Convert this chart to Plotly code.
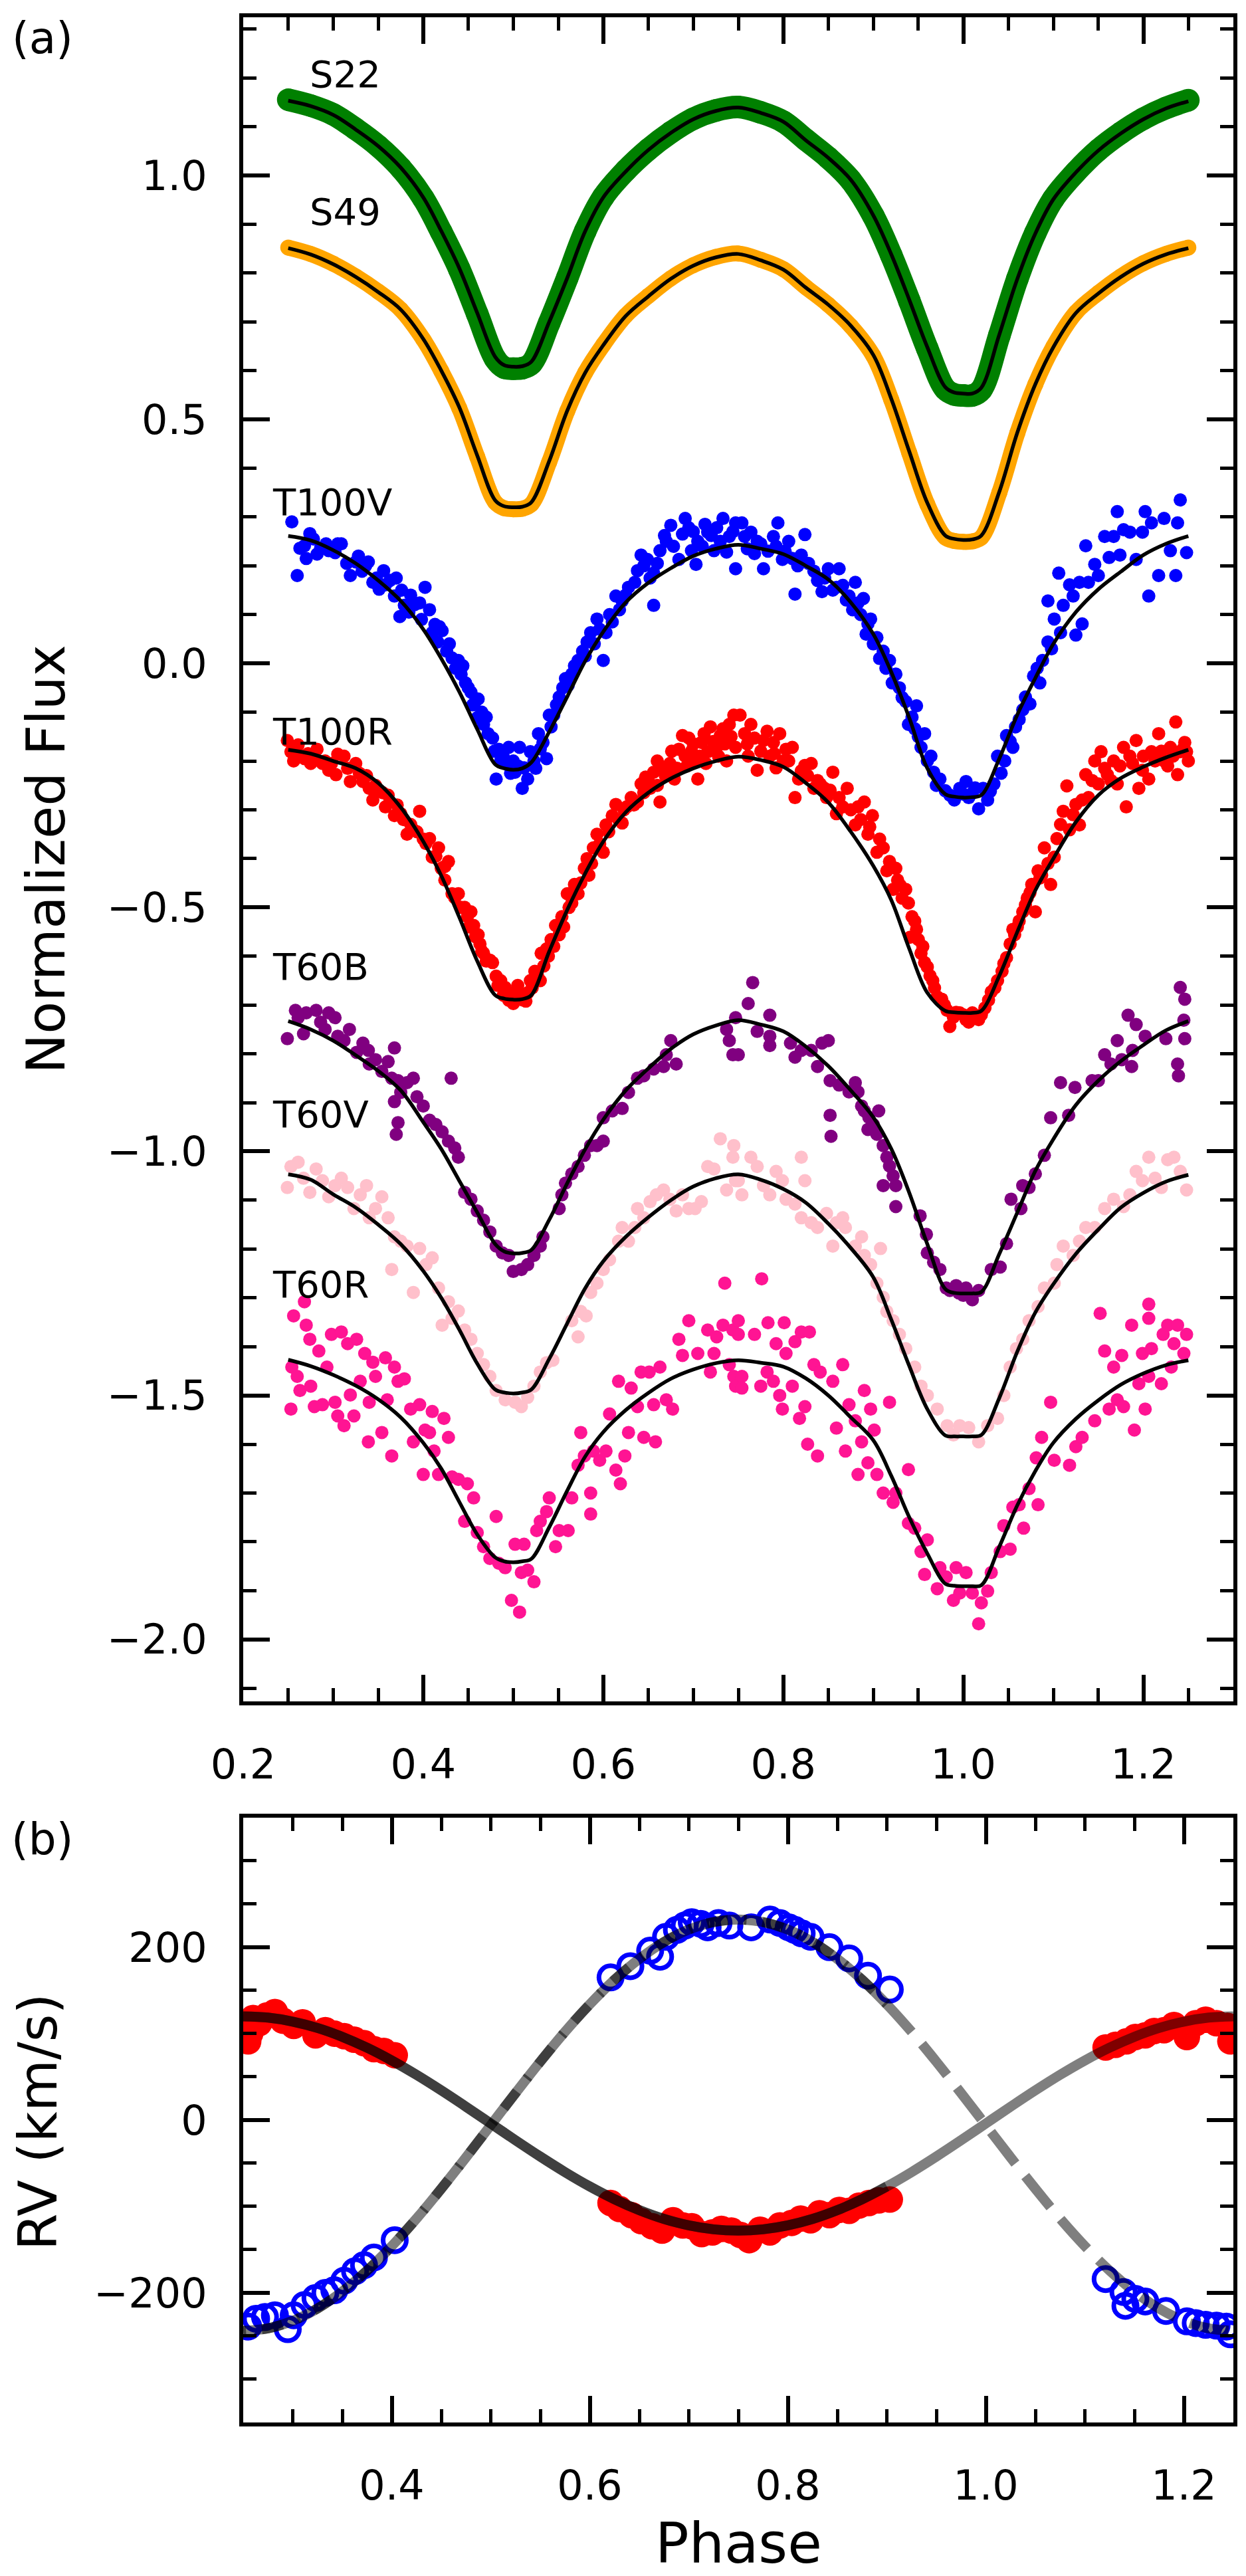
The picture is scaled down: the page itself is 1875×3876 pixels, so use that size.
import plotly.graph_objects as go
from plotly.subplots import make_subplots

FONT = "DejaVu Sans"

# ---- panel (a): light curves ----
MODEL_PHASE = [0.25, 0.275, 0.30, 0.325, 0.35, 0.375, 0.40, 0.42, 0.44, 0.46, 0.48, 0.49, 0.50,
               0.51, 0.52, 0.54, 0.56, 0.58, 0.60, 0.625, 0.65, 0.675, 0.70, 0.725, 0.75,
               0.775, 0.80, 0.825, 0.85, 0.875, 0.90, 0.92, 0.94, 0.96, 0.98, 0.99, 1.00,
               1.01, 1.02, 1.04, 1.06, 1.08, 1.10, 1.125, 1.15, 1.175, 1.20, 1.225, 1.25]

S22_FLUX = [1.155, 1.143, 1.125, 1.095, 1.060, 1.015, 0.953, 0.884, 0.808, 0.716, 0.624, 0.606, 0.604,
            0.605, 0.614, 0.698, 0.790, 0.886, 0.956, 1.010, 1.053, 1.088, 1.116, 1.133, 1.140,
            1.129, 1.110, 1.073, 1.036, 0.990, 0.917, 0.836, 0.743, 0.645, 0.562, 0.551, 0.549,
            0.549, 0.561, 0.672, 0.788, 0.882, 0.952, 1.007, 1.052, 1.087, 1.116, 1.138, 1.154]
S22_MODEL = [1.153, 1.142, 1.124, 1.094, 1.060, 1.016, 0.955, 0.886, 0.810, 0.718, 0.628, 0.611, 0.608,
             0.609, 0.618, 0.700, 0.790, 0.886, 0.955, 1.008, 1.052, 1.087, 1.115, 1.132, 1.139,
             1.128, 1.110, 1.072, 1.036, 0.991, 0.918, 0.838, 0.745, 0.648, 0.566, 0.555, 0.553,
             0.553, 0.565, 0.674, 0.788, 0.881, 0.951, 1.006, 1.051, 1.086, 1.115, 1.137, 1.152]

S49_FLUX = [0.852, 0.839, 0.819, 0.793, 0.762, 0.725, 0.664, 0.599, 0.523, 0.423, 0.330, 0.318, 0.316,
            0.317, 0.326, 0.413, 0.517, 0.596, 0.653, 0.713, 0.753, 0.789, 0.816, 0.833, 0.840,
            0.827, 0.808, 0.771, 0.735, 0.691, 0.630, 0.540, 0.431, 0.326, 0.258, 0.251, 0.249,
            0.250, 0.258, 0.350, 0.472, 0.572, 0.649, 0.719, 0.759, 0.793, 0.820, 0.839, 0.852]
S49_MODEL = [0.851, 0.838, 0.818, 0.792, 0.761, 0.725, 0.665, 0.600, 0.525, 0.426, 0.334, 0.322, 0.320,
             0.321, 0.330, 0.415, 0.518, 0.596, 0.652, 0.712, 0.752, 0.788, 0.815, 0.832, 0.839,
             0.826, 0.807, 0.770, 0.735, 0.692, 0.632, 0.542, 0.434, 0.329, 0.262, 0.255, 0.253,
             0.254, 0.262, 0.352, 0.473, 0.572, 0.648, 0.718, 0.758, 0.792, 0.819, 0.838, 0.851]

T100V_MODEL = [0.261, 0.252, 0.232, 0.205, 0.170, 0.128, 0.070, 0.010, -0.058, -0.135, -0.207, -0.215, -0.218,
               -0.215, -0.203, -0.140, -0.068, 0.005, 0.065, 0.125, 0.165, 0.195, 0.220, 0.235, 0.243,
               0.235, 0.224, 0.200, 0.172, 0.125, 0.060, -0.018, -0.112, -0.215, -0.268, -0.273, -0.275,
               -0.274, -0.270, -0.195, -0.105, -0.030, 0.040, 0.105, 0.152, 0.188, 0.222, 0.245, 0.261]
T100R_MODEL = [-0.177, -0.185, -0.200, -0.215, -0.245, -0.295, -0.365, -0.435, -0.520, -0.610, -0.680, -0.687, -0.689,
               -0.688, -0.680, -0.590, -0.505, -0.430, -0.365, -0.305, -0.265, -0.236, -0.215, -0.200, -0.191,
               -0.198, -0.212, -0.245, -0.285, -0.345, -0.415, -0.485, -0.585, -0.675, -0.712, -0.715, -0.716,
               -0.716, -0.712, -0.640, -0.550, -0.465, -0.400, -0.325, -0.270, -0.235, -0.212, -0.193, -0.177]
T60B_MODEL = [-0.733, -0.750, -0.773, -0.803, -0.835, -0.875, -0.940, -0.995, -1.060, -1.125, -1.190, -1.205, -1.209,
              -1.208, -1.202, -1.140, -1.065, -0.995, -0.935, -0.875, -0.830, -0.790, -0.760, -0.742, -0.731,
              -0.740, -0.754, -0.785, -0.825, -0.875, -0.930, -0.995, -1.085, -1.190, -1.282, -1.290, -1.291,
              -1.291, -1.288, -1.210, -1.125, -1.040, -0.975, -0.905, -0.855, -0.815, -0.782, -0.752, -0.733]
T60V_MODEL = [-1.047, -1.058, -1.088, -1.115, -1.150, -1.190, -1.245, -1.300, -1.365, -1.435, -1.488, -1.494, -1.496,
              -1.494, -1.488, -1.425, -1.352, -1.280, -1.225, -1.175, -1.135, -1.100, -1.072, -1.055, -1.047,
              -1.058, -1.077, -1.105, -1.148, -1.198, -1.258, -1.345, -1.440, -1.528, -1.582, -1.584, -1.584,
              -1.584, -1.581, -1.505, -1.410, -1.330, -1.272, -1.210, -1.160, -1.115, -1.085, -1.062, -1.048]
T60R_MODEL = [-1.427, -1.440, -1.458, -1.480, -1.508, -1.545, -1.597, -1.650, -1.718, -1.785, -1.832, -1.840, -1.842,
              -1.840, -1.835, -1.770, -1.695, -1.625, -1.575, -1.530, -1.495, -1.466, -1.447, -1.434, -1.428,
              -1.433, -1.441, -1.465, -1.500, -1.545, -1.592, -1.665, -1.750, -1.824, -1.886, -1.890, -1.891,
              -1.891, -1.889, -1.810, -1.725, -1.655, -1.597, -1.548, -1.510, -1.478, -1.455, -1.438, -1.428]

# observed points, (phase, flux)
T100V_POINTS = [
    (.254, .290), (.260, .180), (.263, .236), (.268, .241), (.274, .266), (.282, .224), (.286, .236), (.295, .231),
    (.302, .227), (.309, .245), (.319, .180), (.325, .208), (.332, .189), (.339, .208), (.344, .166), (.351, .152),
    (.358, .161), (.363, .170), (.368, .138), (.374, .096), (.379, .119), (.384, .105), (.396, .124), (.402, .156),
    (.407, .110), (.410, .063), (.416, .044), (.421, .067), (.426, .025), (.432, .011), (.439, .006), (.442, -.022),
    (.447, -.040), (.453, -.059), (.458, -.078), (.461, -.073), (.460, -.111), (.467, -.125), (.472, -.144),
    (.477, -.153), (.481, -.237), (.484, -.176), (.489, -.191), (.495, -.172), (.500, -.200), (.502, -.223),
    (.507, -.172), (.510, -.256), (.512, -.214), (.516, -.237), (.519, -.181), (.523, -.200), (.528, -.144),
    (.533, -.162), (.537, -.195), (.540, -.106), (.545, -.106), (.551, -.069), (.558, -.031), (.565, -.022),
    (.572, .006), (.577, .025), (.582, .044), (.586, .063), (.593, .091), (.600, .006), (.603, .063), (.607, .100),
    (.614, .138), (.621, .128), (.628, .156), (.635, .166), (.642, .222), (.649, .213), (.656, .185), (.656, .119),
    (.663, .231), (.670, .250), (.675, .283), (.684, .213), (.691, .297), (.695, .278), (.698, .231), (.705, .250),
    (.703, .203), (.716, .269), (.723, .231), (.726, .278), (.733, .297), (.740, .260), (.747, .288), (.747, .194),
    (.645, .200), (.660, .205), (.668, .262), (.678, .240), (.688, .265), (.700, .270), (.710, .240), (.713, .285),
    (.720, .262), (.730, .250), (.737, .228), (.744, .270), (.652, .175), (.638, .190), (.625, .140), (.618, .110),
    (.610, .085), (.596, .070), (.590, .040), (.580, .015), (.568, -.005), (.561, -.045), (.555, -.050),
    (.548, -.085), (.542, -.130), (.530, -.175), (.525, -.215), (.505, -.210), (.497, -.225), (.492, -.205),
    (.486, -.200), (.479, -.180), (.470, -.110), (.465, -.100), (.455, -.085), (.450, -.050), (.444, -.005),
    (.436, -.010), (.429, .040), (.418, .075), (.413, .080), (.398, .090), (.390, .120), (.386, .140), (.376, .150),
    (.370, .175), (.356, .190), (.348, .175), (.336, .200), (.328, .220), (.315, .205), (.305, .245), (.292, .245),
    (.278, .255), (.270, .215),
    (.754, .288), (.757, .260), (.764, .269), (.771, .250), (.778, .194), (.789, .260), (.794, .288), (.799, .213),
    (.806, .250), (.813, .142), (.820, .222), (.824, .264), (.834, .189), (.843, .147), (.850, .194), (.859, .156),
    (.862, .194), (.873, .138), (.880, .166), (.883, .124), (.889, .133), (.894, .081), (.897, .091), (.904, .053),
    (.911, .025), (.918, .006), (.925, -.022), (.929, -.050), (.936, -.078), (.948, -.087), (.939, -.125),
    (.946, -.134), (.957, -.144), (.953, -.172), (.960, -.200), (.967, -.223), (.974, -.237), (.980, -.261),
    (.990, -.280), (.996, -.256), (1.003, -.242), (1.010, -.266), (1.017, -.298), (1.022, -.256), (1.027, -.280),
    (1.034, -.247), (1.038, -.190), (1.046, -.200), (1.048, -.148), (1.055, -.172), (1.062, -.115), (1.069, -.069),
    (1.074, -.083), (1.078, -.026), (1.085, -.040), (1.088, .006), (1.094, .044), (1.094, .128), (1.101, .091),
    (1.106, .185), (1.108, .063), (1.111, .119), (1.118, .161), (1.122, .138), (1.125, .058), (1.129, .166),
    (1.132, .081), (1.136, .241), (1.139, .166), (1.146, .203), (1.150, .180), (1.157, .260), (1.162, .217),
    (1.167, .260), (1.171, .311), (1.174, .222), (1.178, .274), (1.185, .269), (1.192, .213), (1.199, .269),
    (1.202, .311), (1.206, .138), (1.209, .288), (1.217, .180), (1.223, .297), (1.230, .231), (1.236, .180),
    (1.238, .288), (1.241, .335), (1.248, .227),
    (.760, .235), (.768, .225), (.775, .245), (.783, .230), (.792, .240), (.802, .230), (.810, .215), (.816, .200),
    (.828, .205), (.838, .170), (.846, .175), (.855, .150), (.866, .160), (.870, .130), (.877, .110), (.886, .100),
    (.892, .060), (.900, .040), (.907, .010), (.914, -.010), (.921, -.040), (.932, -.070), (.943, -.110),
    (.950, -.150), (.964, -.190), (.970, -.250), (.985, -.270), (1.000, -.268), (1.006, -.275), (1.013, -.255),
    (1.030, -.262), (1.042, -.225), (1.052, -.160), (1.058, -.130), (1.066, -.095), (1.082, -.010), (1.098, .030),
]

T100R_POINTS = [
    (.249, -.158), (.253, -.181), (.256, -.200), (.261, -.167), (.268, -.195), (.275, -.205), (.282, -.176),
    (.288, -.205), (.295, -.219), (.303, -.228), (.305, -.186), (.312, -.190), (.319, -.242), (.325, -.205),
    (.333, -.242), (.340, -.256), (.344, -.280), (.351, -.261), (.358, -.294), (.363, -.284), (.368, -.312),
    (.375, -.308), (.382, -.350), (.389, -.341), (.396, -.303), (.403, -.369), (.407, -.359), (.410, -.397),
    (.417, -.378), (.424, -.416), (.428, -.406), (.424, -.444), (.432, -.472), (.439, -.472), (.446, -.500),
    (.449, -.519), (.453, -.509), (.456, -.537), (.461, -.556), (.463, -.575), (.467, -.594), (.474, -.608),
    (.477, -.613), (.481, -.641), (.486, -.650), (.491, -.664), (.498, -.678), (.500, -.697), (.505, -.660),
    (.509, -.678), (.514, -.692), (.519, -.650), (.524, -.631), (.530, -.650), (.531, -.594), (.537, -.585),
    (.542, -.566), (.547, -.537), (.551, -.556), (.554, -.519), (.560, -.472), (.565, -.491), (.568, -.453),
    (.572, -.472), (.579, -.420), (.584, -.434), (.589, -.378), (.593, -.350), (.600, -.387), (.603, -.331),
    (.610, -.312), (.614, -.289), (.621, -.327), (.626, -.294), (.631, -.275), (.638, -.284), (.642, -.247),
    (.647, -.233), (.652, -.256), (.656, -.223), (.663, -.284), (.666, -.214), (.674, -.205), (.679, -.237),
    (.684, -.176), (.691, -.190), (.695, -.153), (.702, -.200), (.705, -.237), (.709, -.162), (.716, -.181),
    (.719, -.130), (.726, -.172), (.733, -.134), (.737, -.200), (.740, -.125), (.745, -.106), (.747, -.172),
    (.688, -.148), (.712, -.144), (.730, -.148),
    (.258, -.180), (.264, -.190), (.272, -.185), (.279, -.195), (.291, -.200), (.298, -.205), (.316, -.215),
    (.329, -.225), (.337, -.230), (.347, -.250), (.355, -.265), (.361, -.270), (.371, -.290), (.378, -.320),
    (.386, -.330), (.393, -.345), (.400, -.360), (.414, -.395), (.420, -.420), (.435, -.480), (.442, -.500),
    (.451, -.540), (.458, -.560), (.465, -.590), (.470, -.610), (.483, -.660), (.489, -.680), (.495, -.690),
    (.502, -.685), (.511, -.690), (.516, -.675), (.521, -.665), (.527, -.640), (.534, -.620), (.539, -.600),
    (.545, -.580), (.556, -.540), (.562, -.500), (.575, -.450), (.582, -.400), (.587, -.410), (.596, -.370),
    (.606, -.345), (.617, -.320), (.623, -.300), (.634, -.290), (.645, -.265), (.650, -.240), (.660, -.250),
    (.669, -.230), (.676, -.220), (.682, -.215), (.693, -.210), (.698, -.180), (.707, -.190), (.714, -.205),
    (.722, -.160), (.728, -.190), (.735, -.165), (.742, -.150), (.700, -.165), (.676, -.180), (.660, -.200),
    (.752, -.106), (.757, -.144), (.761, -.190), (.768, -.153), (.771, -.219), (.778, -.158), (.785, -.190),
    (.792, -.214), (.796, -.144), (.803, -.176), (.810, -.172), (.813, -.275), (.817, -.237), (.824, -.209),
    (.831, -.205), (.834, -.256), (.841, -.247), (.848, -.275), (.855, -.223), (.859, -.308), (.866, -.294),
    (.871, -.256), (.880, -.331), (.883, -.294), (.890, -.284), (.894, -.350), (.899, -.312), (.904, -.387),
    (.911, -.378), (.915, -.425), (.918, -.406), (.922, -.463), (.927, -.444), (.932, -.481), (.936, -.463),
    (.939, -.491), (.943, -.519), (.946, -.528), (.941, -.561), (.950, -.566), (.953, -.594), (.957, -.613),
    (.960, -.622), (.966, -.650), (.971, -.683), (.976, -.688), (.982, -.711), (.989, -.725), (.985, -.744),
    (.996, -.716), (1.003, -.730), (1.010, -.716), (1.017, -.730), (1.024, -.706), (1.031, -.673), (1.038, -.650),
    (1.043, -.631), (1.048, -.603), (1.052, -.575), (1.057, -.556), (1.062, -.528), (1.066, -.509), (1.071, -.481),
    (1.076, -.453), (1.080, -.509), (1.083, -.425), (1.087, -.434), (1.090, -.378), (1.097, -.453), (1.101, -.397),
    (1.104, -.359), (1.111, -.303), (1.115, -.251), (1.118, -.341), (1.125, -.289), (1.129, -.331), (1.136, -.228),
    (1.139, -.275), (1.146, -.200), (1.150, -.247), (1.153, -.181), (1.160, -.228), (1.167, -.200), (1.171, -.247),
    (1.178, -.172), (1.181, -.294), (1.185, -.190), (1.192, -.158), (1.195, -.256), (1.199, -.219), (1.206, -.237),
    (1.209, -.181), (1.217, -.144), (1.223, -.200), (1.230, -.172), (1.236, -.120), (1.238, -.228), (1.241, -.181),
    (1.246, -.162), (1.250, -.200), (1.248, -.181), (.764, -.125), (.782, -.139), (.789, -.162), (.806, -.200),
    (.760, -.165), (.775, -.180), (.790, -.185), (.800, -.200), (.820, -.220), (.827, -.230), (.838, -.240),
    (.845, -.255), (.852, -.260), (.862, -.275), (.875, -.300), (.886, -.320), (.896, -.335), (.907, -.360),
    (.925, -.420), (.930, -.455), (.948, -.545), (.955, -.580), (.963, -.640), (.968, -.665), (.979, -.700),
    (.992, -.715), (1.000, -.720), (1.006, -.735), (1.014, -.722), (1.020, -.720), (1.028, -.690), (1.035, -.665),
    (1.045, -.615), (1.055, -.545), (1.060, -.540), (1.069, -.495), (1.074, -.470), (1.085, -.440), (1.094, -.410),
    (1.108, -.330), (1.122, -.310), (1.132, -.280), (1.143, -.240), (1.157, -.215), (1.164, -.240), (1.174, -.210),
    (1.188, -.205), (1.200, -.190), (1.213, -.200), (1.220, -.180), (1.227, -.210), (1.233, -.190), (1.244, -.175),
]

T60B_POINTS = [
    (.249, -.769), (.258, -.711), (.261, -.726), (.267, -.759), (.270, -.716), (.281, -.711), (.286, -.735),
    (.295, -.716), (.302, -.726), (.291, -.750), (.305, -.764), (.312, -.773), (.318, -.750), (.326, -.797),
    (.333, -.778), (.339, -.793), (.340, -.821), (.347, -.812), (.354, -.836), (.361, -.816), (.368, -.788),
    (.365, -.850), (.372, -.855), (.375, -.879), (.382, -.859), (.389, -.850), (.368, -.898), (.372, -.941),
    (.370, -.965), (.393, -.888), (.400, -.907), (.407, -.936), (.414, -.945), (.421, -.960), (.428, -.979),
    (.431, -.850), (.435, -.993), (.439, -1.012), (.446, -1.084), (.453, -1.098), (.460, -1.122), (.467, -1.141),
    (.474, -1.165), (.481, -1.194), (.488, -1.208), (.495, -1.213), (.500, -1.246), (.509, -1.242), (.516, -1.232),
    (.523, -1.213), (.530, -1.194), (.533, -1.175), (.551, -1.117), (.554, -1.089), (.558, -1.065), (.565, -1.046),
    (.572, -1.031), (.579, -1.008), (.586, -.988), (.593, -.988), (.600, -.931), (.600, -.979), (.610, -.917),
    (.621, -.912), (.628, -.879), (.638, -.850), (.645, -.845), (.656, -.831), (.667, -.826), (.670, -.802),
    (.675, -.773), (.681, -.821), (.737, -.750), (.740, -.773), (.744, -.802), (.747, -.726),
    (.766, -.654), (.761, -.697), (.750, -.802), (.771, -.754), (.785, -.721), (.785, -.764), (.785, -.783),
    (.808, -.778), (.813, -.807), (.820, -.793), (.831, -.793), (.838, -.826), (.843, -.778), (.850, -.773),
    (.852, -.855), (.852, -.926), (.853, -.969), (.862, -.864), (.873, -.878), (.880, -.859), (.883, -.878),
    (.887, -.907), (.890, -.917), (.894, -.955), (.904, -.965), (.906, -.917), (.911, -.988), (.915, -1.012),
    (.922, -1.050), (.911, -1.070), (.925, -1.070), (.925, -1.113), (.952, -1.132), (.959, -1.170), (.960, -1.208),
    (.967, -1.227), (.974, -1.242), (.981, -1.280), (.992, -1.275), (1.003, -1.280), (1.010, -1.304),
    (1.017, -1.285), (1.031, -1.242), (1.041, -1.237), (1.048, -1.189), (1.053, -1.098), (1.064, -1.117),
    (1.066, -1.070), (1.073, -1.074), (1.080, -1.046), (1.090, -1.008), (1.097, -.931), (1.108, -.859),
    (1.117, -.926), (1.124, -.869), (1.143, -.855), (1.150, -.855), (1.157, -.802), (1.164, -.821), (1.171, -.773),
    (1.176, -.812), (1.183, -.721), (1.188, -.793), (1.187, -.826), (1.192, -.740), (1.202, -.764), (1.225, -.769),
    (1.238, -.821), (1.239, -.845), (1.241, -.664), (1.246, -.688), (1.245, -.731), (1.246, -.769),
    (.895, -.930), (.900, -.945), (.918, -1.030), (.985, -1.285), (.995, -1.290), (1.000, -1.295), (1.005, -1.290),
]

T60V_POINTS = [
    (.249, -1.074), (.253, -1.031), (.261, -1.022), (.267, -1.055), (.274, -1.084), (.281, -1.036), (.288, -1.060),
    (.295, -1.093), (.302, -1.070), (.309, -1.055), (.316, -1.074), (.323, -1.117), (.330, -1.089), (.337, -1.070),
    (.340, -1.136), (.347, -1.117), (.354, -1.093), (.361, -1.136), (.368, -1.175), (.375, -1.184), (.382, -1.194),
    (.365, -1.242), (.389, -1.289), (.396, -1.199), (.403, -1.232), (.410, -1.218), (.417, -1.280), (.421, -1.356),
    (.428, -1.308), (.432, -1.342), (.439, -1.327), (.446, -1.366), (.453, -1.385), (.460, -1.414), (.467, -1.437),
    (.474, -1.461), (.481, -1.490), (.491, -1.509), (.502, -1.514), (.509, -1.523), (.516, -1.504), (.523, -1.481),
    (.530, -1.452), (.537, -1.433), (.544, -1.428), (.565, -1.347), (.572, -1.380), (.575, -1.328), (.581, -1.337),
    (.586, -1.289), (.593, -1.270), (.600, -1.242), (.607, -1.222), (.617, -1.184), (.621, -1.156), (.628, -1.184),
    (.635, -1.156), (.638, -1.117), (.645, -1.136), (.652, -1.103), (.659, -1.089), (.667, -1.079), (.674, -1.098),
    (.681, -1.122), (.688, -1.089), (.695, -1.117), (.702, -1.117), (.709, -1.103), (.716, -1.031), (.723, -1.036),
    (.730, -.974), (.737, -1.079), (.744, -1.012), (.745, -.988), (.747, -1.060),
    (.750, -1.060), (.754, -1.089), (.764, -1.012), (.771, -1.031), (.778, -1.070), (.785, -1.089), (.792, -1.041),
    (.799, -1.060), (.803, -1.098), (.813, -1.108), (.820, -1.012), (.820, -1.136), (.824, -1.060), (.831, -1.146),
    (.838, -1.156), (.848, -1.127), (.855, -1.194), (.859, -1.146), (.866, -1.136), (.869, -1.156), (.880, -1.194),
    (.887, -1.175), (.890, -1.213), (.897, -1.232), (.908, -1.199), (.904, -1.270), (.911, -1.299), (.915, -1.328),
    (.922, -1.347), (.929, -1.375), (.936, -1.404), (.946, -1.442), (.953, -1.481), (.960, -1.500), (.971, -1.528),
    (.982, -1.562), (.989, -1.581), (.996, -1.562), (1.006, -1.566), (1.017, -1.595), (1.027, -1.562),
    (1.038, -1.547), (1.045, -1.500), (1.052, -1.442), (1.059, -1.404), (1.066, -1.385), (1.073, -1.347),
    (1.083, -1.318), (1.090, -1.280), (1.101, -1.270), (1.104, -1.232), (1.111, -1.194), (1.122, -1.213),
    (1.129, -1.184), (1.136, -1.156), (1.146, -1.156), (1.157, -1.117), (1.167, -1.098), (1.178, -1.113),
    (1.185, -1.089), (1.192, -1.041), (1.199, -1.060), (1.206, -1.012), (1.213, -1.055), (1.220, -1.074),
    (1.227, -1.017), (1.234, -1.012), (1.241, -1.041), (1.248, -1.079),
]

T60R_POINTS = [
    (.253, -1.528), (.254, -1.442), (.256, -1.337), (.260, -1.461), (.263, -1.490), (.268, -1.308), (.270, -1.356),
    (.274, -1.385), (.275, -1.481), (.279, -1.523), (.284, -1.409), (.288, -1.519), (.293, -1.442), (.298, -1.375),
    (.302, -1.514), (.305, -1.542), (.309, -1.370), (.312, -1.562), (.316, -1.394), (.319, -1.499), (.323, -1.542),
    (.326, -1.385), (.330, -1.471), (.335, -1.414), (.339, -1.595), (.340, -1.514), (.344, -1.432), (.347, -1.461),
    (.354, -1.576), (.358, -1.423), (.360, -1.509), (.365, -1.624), (.368, -1.442), (.372, -1.471), (.379, -1.466),
    (.386, -1.528), (.389, -1.595), (.396, -1.519), (.402, -1.571), (.400, -1.662), (.407, -1.576), (.410, -1.533),
    (.412, -1.614), (.417, -1.662), (.423, -1.547), (.428, -1.586), (.432, -1.667), (.439, -1.672), (.446, -1.758),
    (.449, -1.681), (.456, -1.710), (.460, -1.781), (.467, -1.810), (.474, -1.834), (.481, -1.748), (.484, -1.844),
    (.491, -1.853), (.498, -1.920), (.502, -1.805), (.507, -1.944), (.509, -1.863), (.512, -1.805), (.516, -1.858),
    (.523, -1.882), (.526, -1.777), (.530, -1.758), (.537, -1.738), (.540, -1.710), (.547, -1.810), (.551, -1.777),
    (.561, -1.777), (.565, -1.710), (.572, -1.643), (.575, -1.576), (.579, -1.624), (.586, -1.700), (.586, -1.743),
    (.589, -1.614), (.596, -1.633), (.603, -1.614), (.607, -1.538), (.614, -1.653), (.617, -1.471), (.619, -1.681),
    (.624, -1.624), (.628, -1.576), (.631, -1.485), (.638, -1.523), (.642, -1.452), (.645, -1.586), (.651, -1.452),
    (.656, -1.519), (.658, -1.595), (.663, -1.442), (.670, -1.509), (.677, -1.528), (.684, -1.385), (.688, -1.418),
    (.695, -1.347), (.705, -1.414), (.716, -1.366), (.719, -1.452), (.723, -1.414), (.726, -1.380), (.733, -1.356),
    (.735, -1.270), (.740, -1.437), (.744, -1.366), (.745, -1.461), (.747, -1.481),
    (.750, -1.347), (.750, -1.375), (.754, -1.461), (.754, -1.485), (.768, -1.375), (.776, -1.261), (.775, -1.481),
    (.782, -1.452), (.783, -1.351), (.789, -1.471), (.792, -1.394), (.796, -1.500), (.799, -1.528), (.801, -1.351),
    (.803, -1.414), (.810, -1.481), (.813, -1.390), (.818, -1.547), (.820, -1.370), (.824, -1.523), (.829, -1.370),
    (.827, -1.600), (.834, -1.437), (.838, -1.624), (.841, -1.452), (.855, -1.471), (.859, -1.567), (.866, -1.437),
    (.869, -1.614), (.873, -1.519), (.880, -1.552), (.883, -1.662), (.887, -1.595), (.890, -1.490), (.894, -1.638),
    (.897, -1.528), (.901, -1.571), (.904, -1.662), (.911, -1.700), (.918, -1.514), (.922, -1.719), (.925, -1.700),
    (.939, -1.652), (.939, -1.762), (.946, -1.772), (.953, -1.820), (.957, -1.867), (.960, -1.796), (.971, -1.896),
    (.974, -1.853), (.981, -1.872), (.989, -1.920), (.992, -1.853), (.996, -1.905), (1.003, -1.863), (1.010, -1.905),
    (1.017, -1.968), (1.020, -1.925), (1.027, -1.901), (1.031, -1.863), (1.041, -1.820), (1.045, -1.767),
    (1.052, -1.815), (1.055, -1.729), (1.062, -1.724), (1.067, -1.772), (1.073, -1.691), (1.081, -1.628),
    (1.083, -1.724), (1.087, -1.586), (1.097, -1.514), (1.101, -1.633), (1.118, -1.643), (1.125, -1.605),
    (1.132, -1.586), (1.146, -1.552), (1.152, -1.332), (1.157, -1.409), (1.162, -1.528), (1.167, -1.442),
    (1.171, -1.509), (1.176, -1.418), (1.178, -1.523), (1.187, -1.356), (1.190, -1.571), (1.195, -1.476),
    (1.199, -1.414), (1.202, -1.528), (1.206, -1.313), (1.206, -1.461), (1.206, -1.342), (1.209, -1.404),
    (1.220, -1.476), (1.222, -1.375), (1.227, -1.356), (1.231, -1.442), (1.234, -1.394), (1.238, -1.356),
    (1.245, -1.414), (1.248, -1.375),
]

LABELS = ["S22", "S49", "T100V", "T100R", "T60B", "T60V", "T60R"]
LABEL_X = [0.272, 0.272, 0.231, 0.231, 0.231, 0.231, 0.231]
LABEL_Y = [1.207, 0.926, 0.330, -0.139, -0.622, -0.924, -1.273]

# ---- panel (b): radial velocities ----
RV_PHASE = [0.25, 0.275, 0.30, 0.325, 0.35, 0.375, 0.40, 0.425, 0.45, 0.475, 0.50, 0.525, 0.55, 0.575,
            0.60, 0.625, 0.65, 0.675, 0.70, 0.725, 0.75, 0.775, 0.80, 0.825, 0.85, 0.875, 0.90, 0.925,
            0.95, 0.975, 1.00, 1.025, 1.05, 1.075, 1.10, 1.125, 1.15, 1.175, 1.20, 1.225, 1.25]
RV1_MODEL = [120.0, 118.5, 113.9, 106.5, 96.3, 83.7, 68.9, 52.3, 34.3, 15.4, -4.0, -23.4, -42.3, -60.3,
             -76.9, -91.7, -104.3, -114.5, -121.9, -126.5, -128.0, -126.5, -121.9, -114.5, -104.3, -91.7,
             -76.9, -60.3, -42.3, -23.4, -4.0, 15.4, 34.3, 52.3, 68.9, 83.7, 96.3, 106.5, 113.9, 118.5, 120.0]
RV2_MODEL = [-244.0, -241.1, -232.4, -218.1, -198.5, -174.3, -145.9, -114.1, -79.5, -43.2, -6.0, 31.2, 67.5,
             102.1, 133.9, 162.3, 186.5, 206.1, 220.4, 229.1, 232.0, 229.1, 220.4, 206.1, 186.5, 162.3, 133.9,
             102.1, 67.5, 31.2, -6.0, -43.2, -79.5, -114.1, -145.9, -174.3, -198.5, -218.1, -232.4, -241.1, -244.0]

RV1_POINTS = [
    (0.255, 91), (0.257, 100), (0.260, 118), (0.266, 112), (0.274, 121), (0.282, 125), (0.290, 115), (0.301, 109),
    (0.310, 113), (0.323, 98), (0.333, 104), (0.342, 100), (0.352, 97), (0.362, 93), (0.372, 89), (0.382, 82),
    (0.392, 80), (0.403, 75),
    (0.621, -96), (0.630, -103), (0.642, -110), (0.652, -117), (0.663, -123), (0.673, -128), (0.684, -116),
    (0.694, -122), (0.703, -123), (0.713, -132), (0.724, -130), (0.733, -126), (0.743, -128), (0.752, -133),
    (0.761, -139), (0.772, -127), (0.782, -130), (0.792, -122), (0.804, -119), (0.813, -114), (0.823, -116),
    (0.832, -108), (0.842, -110), (0.852, -104), (0.862, -105), (0.872, -99), (0.882, -96), (0.892, -93),
    (0.903, -92),
    (1.121, 84), (1.131, 87), (1.142, 91), (1.151, 96), (1.161, 98), (1.170, 103), (1.180, 104), (1.190, 110),
    (1.203, 96), (1.212, 112), (1.222, 116), (1.233, 112), (1.244, 109), (1.247, 91),
]
RV2_POINTS = [
    (0.255, -239), (0.263, -230), (0.272, -228), (0.282, -226), (0.295, -242), (0.301, -226), (0.312, -214),
    (0.323, -206), (0.333, -200), (0.342, -197), (0.352, -186), (0.363, -175), (0.372, -168), (0.382, -159),
    (0.403, -139),
    (0.621, 165), (0.641, 178), (0.661, 196), (0.671, 189), (0.677, 212), (0.688, 220), (0.696, 225),
    (0.703, 229), (0.712, 227), (0.719, 223), (0.730, 228), (0.741, 225), (0.763, 223), (0.782, 232),
    (0.792, 228), (0.801, 223), (0.807, 220), (0.814, 216), (0.823, 212), (0.842, 200), (0.862, 187),
    (0.881, 167), (0.903, 151),
    (1.121, -184), (1.139, -199), (1.141, -215), (1.151, -207), (1.161, -210), (1.182, -221), (1.203, -233),
    (1.212, -235), (1.222, -237), (1.233, -238), (1.243, -239), (1.247, -248),
]


def split(points):
    return [p for p, _ in points], [v for _, v in points]


def add_band(fig, flux, colour, width):
    fig.add_trace(go.Scatter(x=MODEL_PHASE, y=flux, mode="lines+markers",
                             line=dict(color=colour, width=width, shape="spline", smoothing=1.0),
                             marker=dict(color=colour, size=width)), row=1, col=1)


def add_dots(fig, points, colour):
    x, y = split(points)
    fig.add_trace(go.Scatter(x=x, y=y, mode="markers",
                             marker=dict(color=colour, size=20, line=dict(width=0))), row=1, col=1)


def add_model(fig, flux):
    fig.add_trace(go.Scatter(x=MODEL_PHASE, y=flux, mode="lines",
                             line=dict(color="black", width=5.5, shape="spline", smoothing=1.0)), row=1, col=1)


def lightcurve_panel(fig):
    add_band(fig, S22_FLUX, "green", 34)
    add_band(fig, S49_FLUX, "orange", 24)
    add_dots(fig, T100V_POINTS, "blue")
    add_dots(fig, T100R_POINTS, "red")
    add_dots(fig, T60B_POINTS, "purple")
    add_dots(fig, T60V_POINTS, "pink")
    add_dots(fig, T60R_POINTS, "deeppink")
    for model in [S22_MODEL, S49_MODEL, T100V_MODEL, T100R_MODEL, T60B_MODEL, T60V_MODEL, T60R_MODEL]:
        add_model(fig, model)
    for name, x, y in zip(LABELS, LABEL_X, LABEL_Y):
        fig.add_annotation(x=x, y=y, xref="x", yref="y", text=name, showarrow=False,
                           xanchor="left", yanchor="middle", font=dict(family=FONT, size=56, color="black"))


def rv_panel(fig):
    x, y = split(RV1_POINTS)
    fig.add_trace(go.Scatter(x=x, y=y, mode="markers",
                             marker=dict(color="red", size=40, line=dict(width=0))), row=2, col=1)
    x, y = split(RV2_POINTS)
    fig.add_trace(go.Scatter(x=x, y=y, mode="markers",
                             marker=dict(color="blue", symbol="circle-open", size=35, line=dict(width=7))),
                  row=2, col=1)
    shade = "rgba(0,0,0,0.5)"
    # model drawn twice over the first part of the cycle, as in the original
    fig.add_trace(go.Scatter(x=RV_PHASE, y=RV1_MODEL, mode="lines",
                             line=dict(color=shade, width=15, shape="spline")), row=2, col=1)
    fig.add_trace(go.Scatter(x=RV_PHASE[:27], y=RV1_MODEL[:27], mode="lines",
                             line=dict(color=shade, width=15, shape="spline")), row=2, col=1)
    fig.add_trace(go.Scatter(x=RV_PHASE, y=RV2_MODEL, mode="lines",
                             line=dict(color=shade, width=15, shape="spline", dash="60px,24px")), row=2, col=1)
    fig.add_trace(go.Scatter(x=RV_PHASE[26::-1], y=RV2_MODEL[26::-1], mode="lines",
                             line=dict(color=shade, width=15, shape="spline", dash="60px,24px")), row=2, col=1)


def style_axis(dtick, minor, fmt, rng, tick0=0.0):
    return dict(range=rng, tick0=tick0, dtick=dtick, tickformat=fmt,
                showline=True, linewidth=6, linecolor="black", mirror="allticks",
                ticks="inside", ticklen=40, tickwidth=6, tickcolor="black",
                minor=dict(ticks="inside", ticklen=20, tickwidth=5, tickcolor="black", dtick=minor, tick0=tick0),
                showgrid=False, zeroline=False, ticklabelstandoff=36,
                tickfont=dict(family=FONT, size=62, color="black"))


fig = make_subplots(rows=2, cols=1)
lightcurve_panel(fig)
rv_panel(fig)

# margins nudged a few px to line up with the reference frame
fig.update_layout(
    width=1875, height=3876,
    margin=dict(l=358, r=27, t=18, b=239),
    plot_bgcolor="white", paper_bgcolor="white", showlegend=False,
    font=dict(family=FONT, color="black"),
    xaxis=dict(domain=[0, 1], **style_axis(0.2, 0.05, ".1f", [0.2, 1.3], 0.2)),
    yaxis=dict(domain=[0.2998, 1], **style_axis(0.5, 0.1, ".1f", [-2.127, 1.324])),
    xaxis2=dict(domain=[0, 1], **style_axis(0.2, 0.05, ".1f", [0.25, 1.25])),
    yaxis2=dict(domain=[0, 0.2515], **style_axis(200, 50, "d", [-350, 350])),
)

titles = [
    ("Normalized Flux", -0.1987, 0.650, -90, 80),
    ("RV (km/s)", -0.2067, 0.1249, -90, 80),
    ("Phase", 0.5, -0.0503, 0, 84),
    ("(a)", -0.2027, 0.9912, 0, 66),
    ("(b)", -0.2027, 0.2426, 0, 66),
]
for text, x, y, angle, size in titles:
    fig.add_annotation(x=x, y=y, xref="paper", yref="paper", text=text, showarrow=False,
                       textangle=angle, xanchor="center", yanchor="middle",
                       font=dict(family=FONT, size=size, color="black"))

fig.write_html("out.html")
